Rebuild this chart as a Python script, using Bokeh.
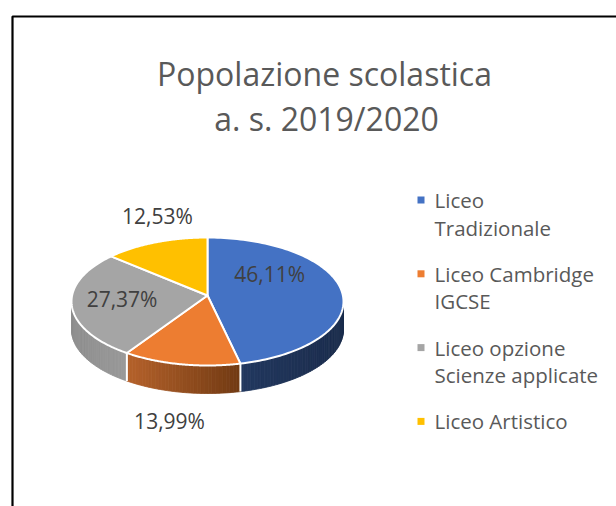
import numpy as np
from bokeh.plotting import figure
from bokeh.models import Range1d
from bokeh.core.properties import value
from bokeh.embed import file_html
from bokeh.resources import INLINE

# ---------------- data ----------------
title_lines = ["Popolazione scolastica", "a. s. 2019/2020"]
categories = ["Liceo Tradizionale", "Liceo Cambridge IGCSE",
              "Liceo opzione Scienze applicate", "Liceo Artistico"]
legend_lines = [["Liceo", "Tradizionale"], ["Liceo Cambridge", "IGCSE"],
                ["Liceo opzione", "Scienze applicate"], ["Liceo Artistico"]]
shares = [46.11, 13.99, 27.37, 12.53]
share_labels = ["46,11%", "13,99%", "27,37%", "12,53%"]

# ---------------- style ----------------
top_colors = ["#4472C4", "#ED7D31", "#A5A5A5", "#FFC000"]
wall_left = ["#22385F", "#B5622B", "#8E8E8E", "#C99A00"]
wall_right = ["#1B2C4C", "#713A13", "#9A9A9A", "#A07A00"]
label_fx = [0.46, 1.44, 0.63, 0.96]
label_fy = [2.8, 1.55, 0.7, 1.34]

W, H = 616, 506
p = figure(width=W, height=H, output_backend="svg", toolbar_location=None,
           x_range=Range1d(0, W), y_range=Range1d(H, 0),
           min_border=0, outline_line_color=None)
p.axis.visible = False
p.xgrid.visible = False
p.ygrid.visible = False
p.background_fill_color = "white"

# chart frame (left & top edges visible, others run off page)
p.line(x=[12, 12, 700], y=[700, 16, 16], line_color="#000000", line_width=2.2)

# ---------------- pie geometry ----------------
cx, cy = 207.0, 301.0
apex_y = 295.0
rx, ry = 136.0, 64.0
depth = 28.0

vals = np.array(shares, dtype=float)
cum = np.concatenate([[0], np.cumsum(vals)]) / vals.sum() * 360.0


def rim(theta_deg):
    t = np.radians(theta_deg)
    return cx + rx * np.sin(t), cy - ry * np.cos(t)


def hex2rgb(h):
    return np.array([int(h[i:i + 2], 16) for i in (1, 3, 5)], dtype=float)


def rgb2hex(c):
    return "#%02x%02x%02x" % tuple(int(round(v)) for v in c)


# walls (front half: 90..270 degrees)
wx, wy, wc = [], [], []
for i in range(len(vals)):
    a, b = max(cum[i], 90.0), min(cum[i + 1], 270.0)
    if b <= a:
        continue
    n = max(2, int((b - a) / 1.5))
    th = np.linspace(a, b, n + 1)
    xs, ys = rim(th)
    xmin, xmax = xs.min(), xs.max()
    c0, c1 = hex2rgb(wall_left[i]), hex2rgb(wall_right[i])
    for j in range(n):
        xm = 0.5 * (xs[j] + xs[j + 1])
        t = (xm - xmin) / (xmax - xmin) if xmax > xmin else 0
        wx.append([xs[j], xs[j + 1], xs[j + 1], xs[j]])
        wy.append([ys[j], ys[j + 1], ys[j + 1] + depth, ys[j] + depth])
        wc.append(rgb2hex(c0 + (c1 - c0) * t))
p.patches(wx, wy, fill_color=wc, line_color=wc, line_width=0.8)

# white separators on the wall
for k in range(1, len(vals)):
    if 90.0 < cum[k] < 270.0:
        x0, y0 = rim(cum[k])
        p.line([x0, x0], [y0, y0 + depth], line_color="white", line_width=2)

# top faces
tx, ty = [], []
for i in range(len(vals)):
    th = np.linspace(cum[i], cum[i + 1], 120)
    xs, ys = rim(th)
    tx.append([cx] + list(xs))
    ty.append([apex_y] + list(ys))
p.patches(tx, ty, fill_color=top_colors, line_color="white", line_width=2,
          line_join="round")

# data labels
lx, ly = [], []
for i in range(len(vals)):
    mid = np.radians(0.5 * (cum[i] + cum[i + 1]))
    ox = rx * label_fx[i] * np.sin(mid)
    oy = -ry * label_fy[i] * np.cos(mid)
    if label_fx[i] > 1 and 90 < np.degrees(mid) < 270:
        oy += depth
    lx.append(cx + ox)
    ly.append(apex_y + oy)
p.text(x=lx, y=ly, text=share_labels, text_font=value("Open Sans"),
       text_font_size="21px", text_color="#404040", text_align="center",
       text_baseline="middle")

# title
p.text(x=[324, 326], y=[73, 118], text=title_lines, text_font=value("Open Sans"),
       text_font_size="32px", text_color="#595959", text_align="center",
       text_baseline="alphabetic")

# legend
leg_x0, leg_y0, leg_step, line_h = 420.5, 199.5, 73.8, 27.5
sq_x, sq_y, t_x, t_y, t_s = [], [], [], [], []
for i, lines in enumerate(legend_lines):
    y0 = leg_y0 + i * leg_step
    sq_x.append(leg_x0)
    sq_y.append(y0)
    for k, s in enumerate(lines):
        t_x.append(leg_x0 + 13.5)
        t_y.append(y0 + k * line_h)
        t_s.append(s)
p.rect(x=sq_x, y=sq_y, width=7, height=7, fill_color=top_colors, line_color=None)
p.text(x=t_x, y=t_y, text=t_s, text_font=value("Open Sans"), text_font_size="20.5px",
       text_color="#595959", text_align="left", text_baseline="middle")

open("out.html", "w").write(file_html(p, INLINE))
